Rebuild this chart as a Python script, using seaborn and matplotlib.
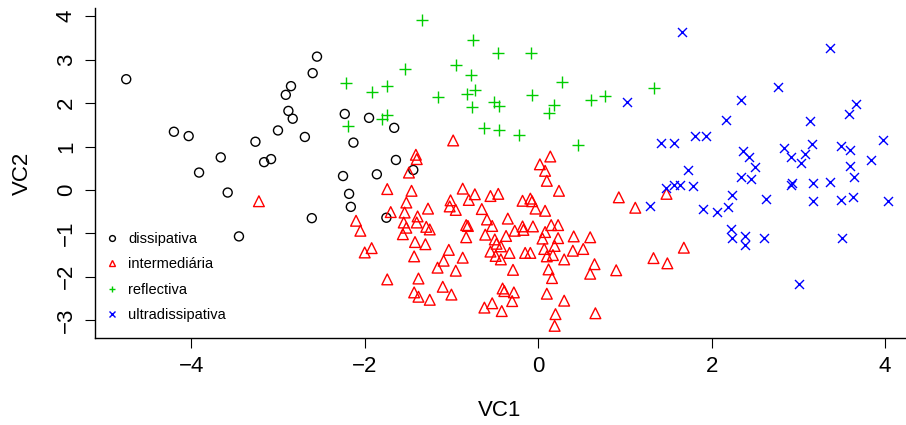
import matplotlib
matplotlib.use("Agg")
import matplotlib.pyplot as plt
from matplotlib.lines import Line2D
import seaborn as sb
import pandas as pd

# point coordinates, per class
dissipativa = [
    (-4.75, 2.55), (-2.55, 3.07), (-2.60, 2.69), (-2.85, 2.39), (-2.91, 2.19),
    (-2.88, 1.82), (-2.83, 1.64), (-2.23, 1.75), (-4.20, 1.34), (-4.03, 1.24),
    (-3.26, 1.11), (-3.00, 1.37), (-2.69, 1.22), (-2.13, 1.09), (-3.66, 0.75),
    (-3.08, 0.71), (-3.16, 0.64), (-3.91, 0.40), (-2.25, 0.32), (-3.58, -0.06),
    (-2.18, -0.09), (-2.16, -0.39), (-2.61, -0.65), (-3.45, -1.07), (-1.95, 1.66),
    (-1.66, 1.43), (-1.64, 0.69), (-1.86, 0.36), (-1.44, 0.46), (-1.75, -0.64),
]

intermediaria = [
    (-0.98, 1.14), (-1.41, 0.81), (-1.40, 0.71), (-1.49, 0.40), (0.14, 0.77),
    (0.02, 0.59), (0.08, 0.44), (0.10, 0.21), (0.24, -0.02), (0.93, -0.17),
    (-1.74, 0.02), (-1.46, -0.02), (-0.87, 0.03), (-0.73, -0.10), (-0.55, -0.14),
    (-0.46, -0.09), (-0.80, -0.23), (-1.52, -0.29), (-1.01, -0.24), (-1.02, -0.38),
    (-0.95, -0.46), (-1.27, -0.43), (-0.65, -0.44), (-0.18, -0.25), (-0.09, -0.20),
    (-0.07, -0.26), (-0.03, -0.43), (0.08, -0.48), (-1.70, -0.51), (-1.54, -0.52),
    (-1.39, -0.61), (-2.10, -0.71), (-2.05, -0.94), (-1.55, -0.75), (-1.52, -0.87),
    (-1.40, -0.75), (-1.56, -1.02), (-1.29, -0.85), (-1.25, -0.91), (-0.83, -0.81),
    (-0.81, -0.83), (-0.59, -0.68), (-0.53, -0.83), (-0.35, -0.66), (-0.27, -0.94),
    (-0.18, -0.84), (-0.06, -0.84), (-0.17, -0.92), (-0.61, -1.03), (-0.37, -1.06),
    (-0.83, -1.09), (-0.50, -1.14), (-0.48, -1.24), (-0.43, -1.30), (0.05, -1.12),
    (0.08, -0.97), (0.15, -0.81), (0.23, -0.81), (0.23, -1.11), (0.19, -1.29),
    (0.41, -1.07), (0.60, -1.09), (-1.42, -1.20), (-1.30, -1.25), (-1.03, -1.38),
    (-0.87, -1.56), (-1.09, -1.63), (-1.16, -1.79), (-0.95, -1.86), (-1.43, -1.53),
    (-2.00, -1.44), (-1.92, -1.34), (-0.55, -1.42), (-0.49, -1.52), (-0.43, -1.60),
    (-0.33, -1.45), (-0.15, -1.45), (-0.09, -1.45), (0.07, -1.36), (0.10, -1.53),
    (0.17, -1.50), (0.30, -1.60), (0.40, -1.40), (0.52, -1.36), (0.12, -1.83),
    (0.16, -2.03), (-0.29, -1.84), (0.65, -1.71), (0.60, -1.93), (0.90, -1.85),
    (-1.74, -2.06), (-1.38, -2.04), (-1.10, -2.23), (-1.43, -2.36), (-1.38, -2.46),
    (-1.25, -2.53), (-1.00, -2.41), (-0.41, -2.27), (-0.39, -2.33), (-0.28, -2.36),
    (-0.30, -2.56), (-0.53, -2.61), (-0.62, -2.71), (-0.42, -2.79), (0.10, -2.39),
    (0.30, -2.55), (0.20, -2.86), (0.19, -3.13), (0.66, -2.84), (1.12, -0.41),
    (1.48, -0.09), (1.68, -1.33), (1.33, -1.57), (1.49, -1.69), (-3.22, -0.26),
]

reflectiva = [
    (-1.34, 3.91), (-0.75, 3.46), (-0.46, 3.15), (-0.08, 3.15), (-1.53, 2.79),
    (-0.95, 2.87), (-0.77, 2.64), (0.27, 2.49), (-2.21, 2.47), (-1.92, 2.26),
    (-1.74, 2.39), (-1.15, 2.14), (-0.82, 2.20), (-0.73, 2.31), (-0.51, 2.03),
    (-0.45, 1.94), (-0.07, 2.18), (0.18, 1.96), (0.13, 1.78), (0.61, 2.06),
    (0.77, 2.17), (-0.76, 1.90), (-1.74, 1.72), (-1.80, 1.64), (-2.19, 1.47),
    (-0.63, 1.43), (-0.45, 1.38), (-0.22, 1.27), (0.46, 1.03), (1.34, 2.34),
]

ultradissipativa = [
    (1.66, 3.63), (3.37, 3.27), (1.03, 2.02), (2.77, 2.37), (2.34, 2.07),
    (3.67, 1.97), (3.58, 1.75), (2.17, 1.62), (3.13, 1.59), (1.81, 1.25),
    (1.93, 1.25), (1.42, 1.07), (1.57, 1.07), (3.98, 1.15), (2.36, 0.90),
    (2.43, 0.77), (2.84, 0.96), (2.92, 0.77), (3.08, 0.83), (3.16, 1.05),
    (3.03, 0.62), (3.49, 1.01), (3.60, 0.93), (3.84, 0.69), (3.60, 0.55),
    (2.50, 0.52), (1.73, 0.47), (2.34, 0.29), (2.46, 0.25), (2.93, 0.15),
    (2.92, 0.12), (3.17, 0.15), (3.37, 0.18), (3.64, 0.29), (1.47, 0.05),
    (1.57, 0.12), (1.64, 0.12), (1.78, 0.08), (2.23, -0.11), (2.63, -0.21),
    (3.17, -0.25), (3.49, -0.23), (3.63, -0.17), (4.03, -0.25), (1.29, -0.38),
    (1.90, -0.44), (2.06, -0.50), (2.19, -0.39), (2.22, -0.91), (2.23, -1.11),
    (2.39, -1.07), (2.39, -1.27), (2.60, -1.10), (3.50, -1.10), (3.01, -2.17),
]

classes = ["dissipativa", "intermediária", "reflectiva", "ultradissipativa"]
groups = [dissipativa, intermediaria, reflectiva, ultradissipativa]

rows = []
for name, pts in zip(classes, groups):
    for vx, vy in pts:
        rows.append({"VC1": vx, "VC2": vy, "praia": name})
df = pd.DataFrame(rows)

sb.set_style("white")
plt.rcParams["font.family"] = ["Liberation Sans", "DejaVu Sans"]
plt.rcParams["text.color"] = "black"
plt.rcParams["axes.labelcolor"] = "black"
plt.rcParams["xtick.color"] = "black"
plt.rcParams["ytick.color"] = "black"

# marker, colour, size, outlined (open) marker?
styles = {
    "dissipativa": ("o", "#000000", 42, True),
    "intermediária": ("^", "#FF0000", 60, True),
    "reflectiva": ("+", "#00CD00", 78, False),
    "ultradissipativa": ("x", "#0000FF", 42, False),
}

fig = plt.figure(figsize=(9.06, 4.25), dpi=100)
ax = fig.add_axes([95 / 906, 87 / 425, 823 / 906, 330 / 425])

for name in classes:
    m, c, s, outline = styles[name]
    sub = df[df["praia"] == name]
    if outline:
        sb.scatterplot(data=sub, x="VC1", y="VC2", marker=m, s=s,
                       facecolor="none", edgecolor=c, linewidth=1.0,
                       legend=False, ax=ax)
    else:
        sb.scatterplot(data=sub, x="VC1", y="VC2", marker=m, s=s,
                       color=c, linewidth=1.0, legend=False, ax=ax)

ax.set_xlim(-5.11, 4.38)
ax.set_ylim(-3.41, 4.19)
ax.set_xticks([-4, -2, 0, 2, 4])
ax.set_yticks([-3, -2, -1, 0, 1, 2, 3, 4])
ax.spines["top"].set_visible(False)
ax.spines["right"].set_visible(False)
for sp in ["left", "bottom"]:
    ax.spines[sp].set_color("black")
    ax.spines[sp].set_linewidth(1.0)
ax.tick_params(axis="both", direction="out", length=7, width=0.8,
               labelsize=16, pad=6, color="black", labelcolor="black",
               left=True, bottom=True)
for t in ax.get_yticklabels():
    t.set_rotation(90)
    t.set_va("center")

ax.set_xlabel("VC1", fontsize=16, color="black")
ax.set_ylabel("VC2", fontsize=16, color="black")
ax.xaxis.set_label_coords((500 - 95) / 823, -(410 - 338) / 330)
ax.yaxis.set_label_coords(-(95 - 22) / 823, 0.5)
ax.xaxis.label.set_va("center")
ax.yaxis.label.set_va("center")

handles = []
for name in classes:
    m, c, s, outline = styles[name]
    if outline:
        h = Line2D([], [], linestyle="none", marker=m, markersize=4.2,
                   markerfacecolor="none", markeredgecolor=c, markeredgewidth=1.0)
    else:
        h = Line2D([], [], linestyle="none", marker=m, markersize=5,
                   color=c, markeredgewidth=1.0)
    handles.append(h)
leg = ax.legend(handles, classes, loc="upper left", frameon=False, fontsize=10.5,
                bbox_to_anchor=(105 / 906, 1 - 232 / 425),
                bbox_transform=fig.transFigure,
                borderpad=0, borderaxespad=0, handlelength=1.0,
                handletextpad=0.6, labelspacing=0.78)
for t in leg.get_texts():
    t.set_color("black")

fig.savefig("out.png", dpi=100)
